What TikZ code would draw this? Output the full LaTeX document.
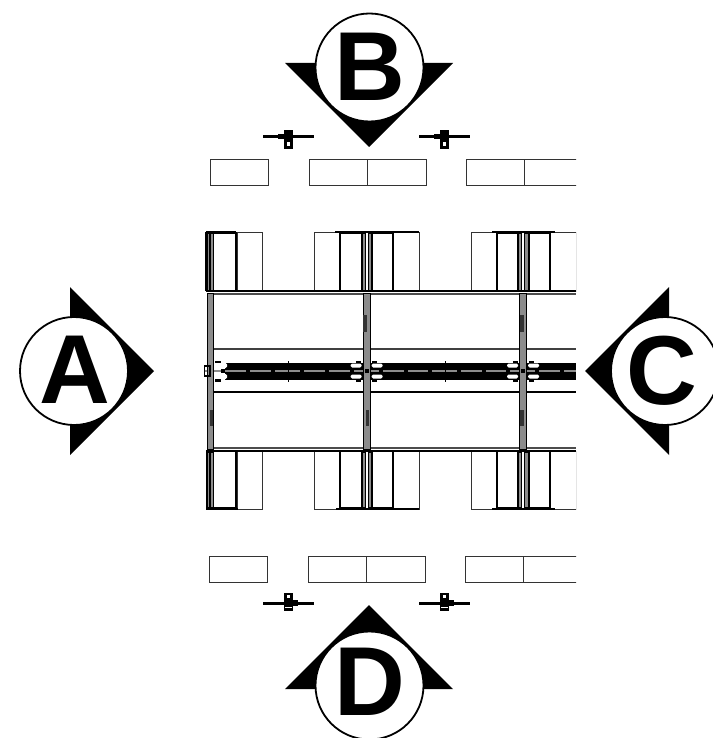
\documentclass[tikz,border=0pt]{standalone}
\usepackage{fontspec}
\setmainfont{Liberation Sans}
\tikzset{
  x=1pt,y=-1pt,
  thinbox/.style={draw=black!80,line width=0.9pt,fill=white},
  beam/.style={draw=black,line width=1.2pt},
  greybar/.style={draw=black,fill=black!45,line width=0.7pt},
  disc/.style={circle,draw=black,line width=1.8pt,fill=white,minimum size=108pt,inner sep=0pt},
  tag/.style={font=\bfseries\fontsize{98}{98}\selectfont,inner sep=0pt,text height=67pt,text depth=0pt},
  wedge/.style={fill=black,draw=none},
}
\begin{document}
\begin{tikzpicture}
\useasboundingbox (0,0) rectangle (712,738);
\begin{scope}
\clip (0,0) rectangle (576,738);
% top and bottom isolated boxes
\foreach \a/\b in {210/268,309/367,367/426,466/524,524/583}{
  \draw[thinbox] (\a,159) rectangle (\b,185);
}
\foreach \a/\b in {209/267,308/366,366/425,465/523,523/582}{
  \draw[thinbox] (\a,556) rectangle (\b,582);
}
% open tables top/bottom
\foreach \a/\b in {237/262,314/339,393/419,471/496,550/576}{
  \draw[thinbox] (\a,232) rectangle (\b,291);
  \draw[thinbox] (\a,451) rectangle (\b,509);
}
% cubicle frames
\foreach \a/\b in {213/236,340/362,372/393,497/518,529/550}{
  \draw[beam] (\a,233) rectangle (\b,291);
  \draw[beam] (\a,451) rectangle (\b,508);
}
\draw[line width=1.6pt] (206,232) -- (236,232) (206,291) -- (236,291);
\draw[line width=1.6pt] (206,509) -- (238,509);
\draw[line width=1.2pt] (335,232) -- (419,232) (492,232) -- (555,232);
\draw[line width=1.2pt] (336,509) -- (419,509) (492,509) -- (555,509);
\draw[line width=1.3pt] (206,232) -- (206,291);
\draw[line width=1.1pt] (207,451) -- (207,509);
% long rails
\draw[line width=1.4pt] (206,291) -- (576,291);
\draw[black!70,line width=1.1pt] (212,294) -- (576,294);
\draw[black!70,line width=1.1pt] (212,448) -- (576,448);
\draw[line width=1.3pt] (206,451) -- (576,451);
\draw[black!75,line width=1.2pt] (213,349) -- (576,349);
\draw[line width=1.2pt] (213,392) -- (576,392);
% central spine
\fill[black] (225,362.5) rectangle (576,379.5);
\draw[black!45,line width=1.4pt] (205,371) -- (576,371);
\foreach \x in {223,248,273,302,327,352,381,406,430,459,484,508,537,562}{
  \fill[black] (\x-2,369) rectangle (\x+2,373);
}
\foreach \x in {288,445}{
  \draw[black,line width=1pt] (\x,361) -- (\x,382);
}
% cubicle upright pairs
\foreach \a/\b in {207.5/209.8,210.8/213,362/365,368/371,518/521.5,524.5/528}{
  \draw[greybar] (\a,233) rectangle (\b,290);
  \draw[greybar] (\a,452) rectangle (\b,507);
}
% posts between the cubicles
\foreach \a/\b in {207/213,363/370,519.5/526.5}{
  \draw[greybar] (\a,293) rectangle (\b,449);
}
% darker inserts on the posts
\fill[black!80] (363,315) rectangle (367,332);
\fill[black!80] (520,315) rectangle (523.5,332);
\fill[black!80] (210,410) rectangle (212.5,426);
\fill[black!80] (366,410) rectangle (369,426);
\fill[black!80] (520,410) rectangle (523.5,426);
% white clearances at post junctions
\fill[white,rounded corners=1.5pt] (215,363) rectangle (227,368);
\fill[white,rounded corners=1.5pt] (215,374) rectangle (227,379);
\foreach \x in {366.5,523}{
  \foreach \s in {-1,1}{
    \fill[white,rounded corners=1.5pt] (\x+\s*5,363.5) rectangle (\x+\s*16,367.5);
    \fill[white,rounded corners=1.5pt] (\x+\s*5,374.5) rectangle (\x+\s*16,378.5);
    \fill[black] (\x+\s*8-2.5,360.5) rectangle (\x+\s*8+2.5,363);
    \fill[black] (\x+\s*8-2.5,379) rectangle (\x+\s*8+2.5,381.5);
  }
  \draw[black,line width=1pt] (\x-3.5,360) -- (\x-3.5,382) (\x+3.5,360) -- (\x+3.5,382);
  \fill[black] (\x-2,369) rectangle (\x+2,373);
}
\fill[black] (215,360.5) rectangle (221,363);
\fill[black] (215,379) rectangle (221,381.5);
\draw[line width=1.1pt] (204.5,366) rectangle (210,376);
\end{scope}
% chairs, top
\foreach \x in {288,444}{
  \fill[black] (\x-25,135.5) rectangle (\x+26,138);
  \fill[black] (\x-10,134) rectangle (\x+5,139);
  \fill[black] (\x-4,130) rectangle (\x+5,149);
  \fill[white] (\x-1,142) rectangle (\x+2,146);
}
% chairs, bottom
\foreach \x in {288,444}{
  \fill[black] (\x-25,602) rectangle (\x+26,604.5);
  \fill[black] (\x-4,593) rectangle (\x+5,611);
  \fill[black] (\x+5,600) rectangle (\x+10,606);
  \fill[white] (\x-1.5,595) rectangle (\x+2,598);
  \fill[white] (\x-3,607) rectangle (\x+4,608.2);
}
% section markers
\fill[wedge] (285,63) -- (453,63) -- (369,147) -- cycle;
\node[disc] (mb) at (369.5,67.5) {};
\node[tag] at (370,67) {B};
\fill[wedge] (70,287) -- (70,455) -- (154,371) -- cycle;
\node[disc] (ma) at (74,371) {};
\node[tag] at (75,370) {A};
\fill[wedge] (669,287) -- (669,455) -- (585,371) -- cycle;
\node[disc] (mc) at (665,371) {};
\node[tag] at (662,371) {C};
\fill[wedge] (285,689) -- (453,689) -- (369,605) -- cycle;
\node[disc] (md) at (369.5,685.5) {};
\node[tag] at (370,682) {D};
\end{tikzpicture}
\end{document}
